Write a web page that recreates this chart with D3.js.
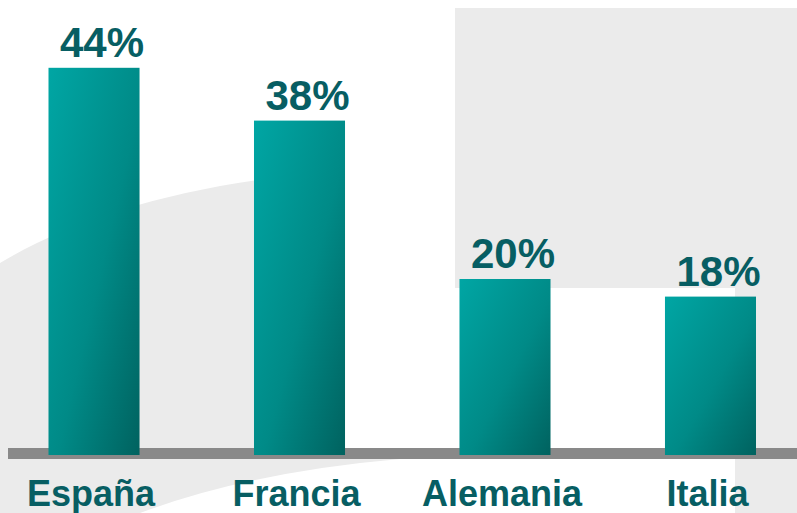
<!DOCTYPE html>
<html>
<head>
<meta charset="utf-8">
<script src="https://cdn.jsdelivr.net/npm/d3@7"></script>
<style>
  html, body { margin: 0; padding: 0; background: #ffffff; }
  svg { display: block; }
</style>
</head>
<body>
<svg id="chart" width="797" height="513"></svg>
<script>
const categories = ["España", "Francia", "Alemania", "Italia"];
const values = [44, 38, 20, 18];
const valueLabels = ["44%", "38%", "20%", "18%"];

const W = 797, H = 513;
const svg = d3.select("#chart");
const font = "'Liberation Sans', Arial, Helvetica, sans-serif";
const textColor = "#075e63";

// Background decorative shapes
svg.append("path")
  .attr("d", "M455,8 L797,8 L797,513 L735,513 L735,288 L455,288 Z")
  .attr("fill", "#ebebeb");
svg.append("path")
  .attr("d", "M0,263 C80,215 200,180 339,172 L339,456 L400,459 Q250,472 140,513 L0,513 Z")
  .attr("fill", "#ebebeb");

const defs = svg.append("defs");
const grad = defs.append("linearGradient")
  .attr("id", "barGrad")
  .attr("x1", "0").attr("y1", "0").attr("x2", "1").attr("y2", "1");
grad.append("stop").attr("offset", "0%").attr("stop-color", "#00a6a4");
grad.append("stop").attr("offset", "55%").attr("stop-color", "#008a87");
grad.append("stop").attr("offset", "100%").attr("stop-color", "#00625f");

const x = d3.scaleBand()
  .domain(categories)
  .range([48.5, 756])
  .paddingInner(0.557)
  .paddingOuter(0);

const y = d3.scaleLinear()
  .domain([0, 50])
  .range([455, 15]);

// Baseline
svg.append("rect")
  .attr("x", 8).attr("y", 448)
  .attr("width", W - 8).attr("height", 11)
  .attr("fill", "#898989");

const data = categories.map((c, i) => ({ c, v: values[i], l: valueLabels[i] }));

svg.selectAll("rect.bar")
  .data(data)
  .join("rect")
  .attr("class", "bar")
  .attr("x", d => x(d.c))
  .attr("y", d => y(d.v))
  .attr("width", x.bandwidth())
  .attr("height", d => y(0) - y(d.v))
  .attr("fill", "url(#barGrad)");

svg.selectAll("text.val")
  .data(data)
  .join("text")
  .attr("class", "val")
  .attr("x", d => x(d.c) + x.bandwidth() / 2 + 8)
  .attr("y", d => y(d.v) - 11)
  .attr("text-anchor", "middle")
  .attr("font-family", font)
  .attr("font-weight", "bold")
  .attr("font-size", 42)
  .attr("fill", textColor)
  .text(d => d.l);

svg.selectAll("text.cat")
  .data(data)
  .join("text")
  .attr("class", "cat")
  .attr("x", d => x(d.c) + x.bandwidth() / 2 - 3)
  .attr("y", 506)
  .attr("text-anchor", "middle")
  .attr("font-family", font)
  .attr("font-weight", "bold")
  .attr("font-size", 36)
  .attr("fill", textColor)
  .text(d => d.c);
</script>
</body>
</html>
